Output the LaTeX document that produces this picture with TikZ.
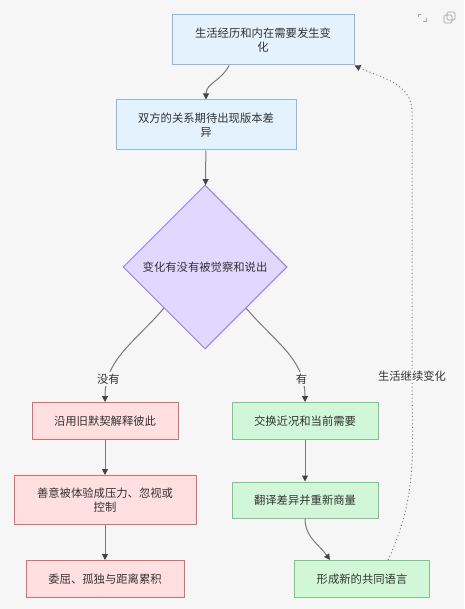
\documentclass[tikz,border=0pt]{standalone}
\usepackage{fontspec}
\setmainfont{Noto Sans CJK SC}
\usetikzlibrary{arrows.meta,shapes.geometric}
\definecolor{paper}{HTML}{F6F6F6}
\definecolor{ink}{HTML}{333333}
\definecolor{wire}{HTML}{7A7A7A}
\definecolor{tip}{HTML}{444444}
\definecolor{blueFill}{HTML}{E3F2FD}
\definecolor{blueLine}{HTML}{8FB6E6}
\definecolor{purpleFill}{HTML}{E1D8FF}
\definecolor{purpleLine}{HTML}{9A80E0}
\definecolor{redFill}{HTML}{FFDFDF}
\definecolor{redLine}{HTML}{E06A6A}
\definecolor{greenFill}{HTML}{D2F6D8}
\definecolor{greenLine}{HTML}{7CC486}
\tikzset{
    box/.style = {
        draw, line width=0.75pt,
        align=center, inner sep=2pt,
        text=ink,
        font=\fontsize{8.5pt}{10.5pt}\selectfont,
        },
    start box/.style = {
        box, fill=blueFill, draw=blueLine,
        },
    ask box/.style = {
        box, diamond, aspect=1, inner sep=0pt,
        fill=purpleFill, draw=purpleLine,
        },
    tense box/.style = {
        box, fill=redFill, draw=redLine,
        },
    calm box/.style = {
        box, fill=greenFill, draw=greenLine,
        },
    flow/.style = {
        draw=wire, line width=0.75pt,
        -{Triangle[length=4.5pt,width=4.5pt,color=tip]},
        },
    loop back/.style = {
        flow, dotted,
        },
    edge text/.style = {
        fill=paper, text=ink, inner sep=1.5pt,
        font=\fontsize{8.5pt}{10.5pt}\selectfont,
        },
}
\begin{document}
\begin{tikzpicture}[x=0.75pt, y=-0.75pt]
    \fill[paper] (0,0) rectangle (464,609);
    \useasboundingbox (0,0) rectangle (464,609);

    % window icons
    \draw[gray!70, line width=0.6pt] (418,17) -- (418,14) -- (421,14)
        (426,18) -- (426,21) -- (423,21);
    \draw[gray!70, line width=0.6pt, rounded corners=1pt]
        (447,12) rectangle (455,20) (444,15) rectangle (452,23);

    \node [start box, minimum width=136.5pt, minimum height=37.5pt] (change) at (263,40)
        {生活经历和内在需要发生变\\化};
    \node [start box, minimum width=135pt, minimum height=37.5pt] (gap) at (206,125)
        {双方的关系期待出现版本差\\异};
    \node [ask box, minimum width=123pt, minimum height=123pt] (ask) at (205,267)
        {变化有没有被觉察和说出};

    \node [tense box, minimum width=109.5pt, minimum height=27.75pt] (old) at (105,421)
        {沿用旧默契解释彼此};
    \node [tense box, minimum width=136.5pt, minimum height=36.75pt] (press) at (105,500)
        {善意被体验成压力、忽视或\\控制};
    \node [tense box, minimum width=118.5pt, minimum height=27.75pt] (hurt) at (105,579)
        {委屈、孤独与距离累积};

    \node [calm box, minimum width=109.5pt, minimum height=27.75pt] (share) at (305,421)
        {交换近况和当前需要};
    \node [calm box, minimum width=109.5pt, minimum height=27pt] (trans) at (305,500)
        {翻译差异并重新商量};
    \node [calm box, minimum width=101.25pt, minimum height=27.75pt] (common) at (362,579)
        {形成新的共同语言};

    \coordinate (side) at (412,376);
    \coordinate (bend) at (412,112);

    \draw[flow] ([xshift=-25.5pt]change.south) to[out=-115, in=90] (gap.north);
    \draw[flow] (gap) -- (ask);
    \draw[flow] (ask.south west) to[out=-130, in=90]
        node[edge text, pos=0.8] (no) {没有} (old.north);
    \draw[flow] (ask.south east) to[out=-50, in=90]
        node[edge text, pos=0.8] (yes) {有} (share.north);
    \draw[flow] (old) -- (press);
    \draw[flow] (press) -- (hurt);
    \draw[flow] (share) -- (trans);
    \draw[flow] (trans.south) to[out=-90, in=125] ([xshift=-24pt]common.north);
    \draw[loop back] ([xshift=19.5pt]common.north) to[out=65, in=-90] (side)
        node[edge text] (again) {生活继续变化}
        -- (bend) to[out=90, in=-25] (change.south east);
\end{tikzpicture}
\end{document}
